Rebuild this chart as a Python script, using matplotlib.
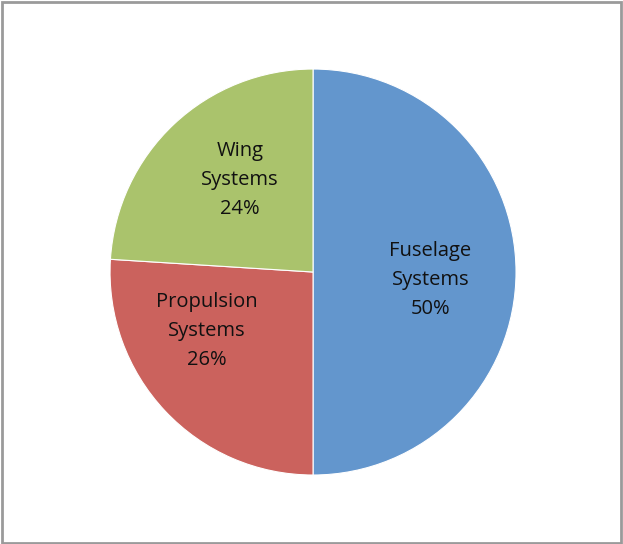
import matplotlib.pyplot as plt
import numpy as np
from matplotlib.patches import Rectangle

# Chart data
categories = ["Fuselage\nSystems", "Propulsion\nSystems", "Wing\nSystems"]
shares = [50, 26, 24]
colors = ["#6396CD", "#CB625D", "#AAC36C"]

# Label placement tweaks (degrees offset from wedge middle, radius)
label_angle_shift = [-4, -14, -5]
label_radius = [0.58, 0.60, 0.58]

fig = plt.figure(figsize=(6.23, 5.44), dpi=100)
ax = fig.add_axes([0.1766, 0.1268, 0.6517, 0.7463])

wedges, _ = ax.pie(shares, colors=colors, startangle=90, counterclock=False,
                   radius=1.0, wedgeprops=dict(edgecolor="white", linewidth=0.8))

for w, name, val, da, r in zip(wedges, categories, shares, label_angle_shift, label_radius):
    mid = np.deg2rad((w.theta1 + w.theta2) / 2 + da)
    ax.text(r * np.cos(mid), r * np.sin(mid), f"{name}\n{val}%",
            ha="center", va="center", fontsize=14.5, family="Open Sans",
            color="#111111", linespacing=1.6)

ax.set_xlim(-1, 1)
ax.set_ylim(-1, 1)
ax.set_aspect("equal")
ax.axis("off")

# Gray frame around the chart area
fig.patches.append(Rectangle((0.004, 0.002), 0.993, 0.994, transform=fig.transFigure,
                             fill=False, edgecolor="#9a9a9a", linewidth=2))

plt.savefig("out.png", dpi=100)
